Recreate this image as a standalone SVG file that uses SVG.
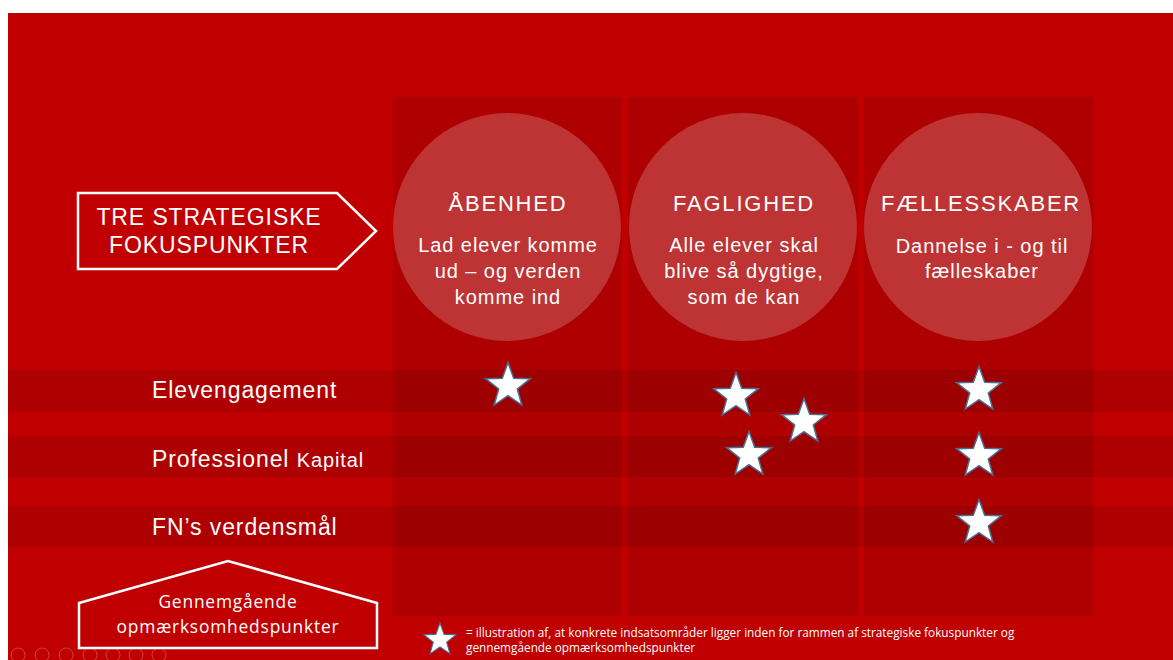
<svg xmlns="http://www.w3.org/2000/svg" width="1173" height="660" viewBox="0 0 1173 660">
<defs>
<style>
.t{font-family:"Liberation Sans",Arial,sans-serif;fill:#fff}
.c{font-family:"Open Sans","Liberation Sans",sans-serif;fill:#fff}
.h{font-size:22px;letter-spacing:1.8px}
.s{font-size:20px;letter-spacing:0.95px}
.r{font-size:23px;letter-spacing:0.9px}
.col{fill:#000;fill-opacity:0.09}
.band{fill:#000;fill-opacity:0.095}
.circ{fill:#fff;fill-opacity:0.2}
.star{fill:#fff;stroke:#4a6f95;stroke-width:1.5;stroke-linejoin:miter}
.outline{fill:none;stroke:#fff;stroke-width:2.5}
.ctl{fill:none;stroke:#fff;stroke-opacity:0.25;stroke-width:1}
</style>
<path id="st" d="M0,-23.5 L5.7,-7.8 L22.4,-7.3 L9.3,3 L13.8,19 L0,9.7 L-13.8,19 L-9.3,3 L-22.4,-7.3 L-5.7,-7.8 Z"/>
</defs>
<rect x="0" y="0" width="1173" height="660" fill="#fff"/>
<rect x="8" y="13" width="1165" height="647" fill="#c00000"/>

<g id="columns">
<rect class="col" x="393" y="97" width="229" height="519"/>
<rect class="col" x="628" y="97" width="230" height="519"/>
<rect class="col" x="864" y="97" width="229" height="519"/>
</g>
<g id="bands">
<rect class="band" x="8" y="370" width="1165" height="42"/>
<rect class="band" x="8" y="436" width="1165" height="41"/>
<rect class="band" x="8" y="506" width="1165" height="41"/>
</g>

<g id="node-abenhed">
<circle class="circ" cx="507" cy="227" r="114"/>
<text class="t h" x="508" y="211" text-anchor="middle">ÅBENHED</text>
<text class="t s" x="508" y="252" text-anchor="middle">Lad elever komme</text>
<text class="t s" x="508" y="278" text-anchor="middle">ud – og verden</text>
<text class="t s" x="508" y="304" text-anchor="middle">komme ind</text>
</g>
<g id="node-faglighed">
<circle class="circ" cx="743" cy="227" r="114"/>
<text class="t h" x="744" y="211" text-anchor="middle">FAGLIGHED</text>
<text class="t s" x="744" y="252" text-anchor="middle">Alle elever skal</text>
<text class="t s" x="744" y="278" text-anchor="middle">blive så dygtige,</text>
<text class="t s" x="744" y="304" text-anchor="middle">som de kan</text>
</g>
<g id="node-faellesskaber">
<circle class="circ" cx="978" cy="227" r="114"/>
<text class="t h" x="981" y="211" text-anchor="middle">FÆLLESSKABER</text>
<text class="t s" x="982" y="253" text-anchor="middle">Dannelse i - og til</text>
<text class="t s" x="982" y="278" text-anchor="middle">fælleskaber</text>
</g>

<g id="node-tre">
<path class="outline" d="M78,193 L337,193 L376,231 L337,269 L78,269 Z"/>
<text class="t" x="209" y="225" font-size="23" letter-spacing="0.9" text-anchor="middle">TRE STRATEGISKE</text>
<text class="t" x="209" y="253" font-size="23" letter-spacing="0.9" text-anchor="middle">FOKUSPUNKTER</text>
</g>

<g id="row-labels">
<text class="t r" x="152" y="398">Elevengagement</text>
<text class="t r" x="152" y="467">Professionel <tspan font-size="20">Kapital</tspan></text>
<text class="t r" x="152" y="535">FN’s verdensmål</text>
</g>

<g id="node-gennemgaaende">
<path class="outline" d="M79,603 L228,561 L377,603 L377,648 L79,648 Z"/>
<text class="c" x="228" y="608" font-size="17.4" letter-spacing="0.8" text-anchor="middle">Gennemgående</text>
<text class="c" x="228" y="633" font-size="17.4" letter-spacing="0.8" text-anchor="middle">opmærksomhedspunkter</text>
</g>

<g id="stars">
<use href="#st" class="star" x="508" y="386"/>
<use href="#st" class="star" x="736" y="396"/>
<use href="#st" class="star" x="804" y="422"/>
<use href="#st" class="star" x="749" y="455"/>
<use href="#st" class="star" x="979" y="390"/>
<use href="#st" class="star" x="979" y="456"/>
<use href="#st" class="star" x="979" y="523"/>
</g>

<g id="legend">
<use href="#st" class="star" transform="translate(440,640) scale(0.72)"/>
<text class="c" x="466" y="637" font-size="11.8">= illustration af,  at konkrete indsatsområder ligger inden for rammen af strategiske fokuspunkter og</text>
<text class="c" x="466" y="652" font-size="11.8">gennemgående opmærksomhedspunkter</text>
</g>

<g id="controls">
<circle class="ctl" cx="18" cy="655" r="7"/>
<circle class="ctl" cx="42" cy="655" r="7"/>
<circle class="ctl" cx="66" cy="655" r="7"/>
<circle class="ctl" cx="90" cy="655" r="7"/>
<circle class="ctl" cx="113" cy="655" r="7"/>
<circle class="ctl" cx="136" cy="655" r="7"/>
<circle class="ctl" cx="159" cy="655" r="7"/>
</g>
</svg>
